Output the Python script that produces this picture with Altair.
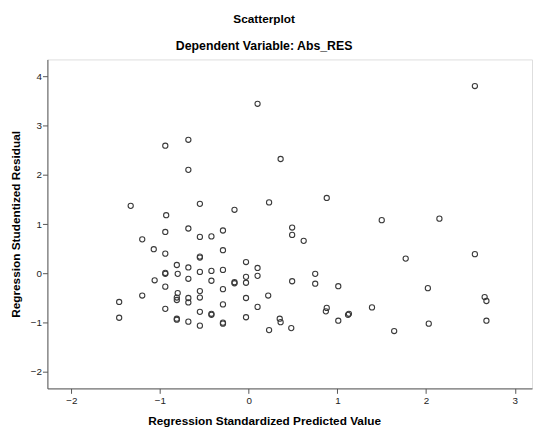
import altair as alt
import pandas as pd

# Regression Standardized Predicted Value (x) and Regression Studentized Residual (y)
pred = [
    0.10, 2.55, -0.94, -0.68, -0.68, 0.36, -1.33, -0.93, -0.55, -0.16,
    0.23, 0.88, 1.50, 2.15, -0.94, -0.68, -0.55, -1.20, -1.07, -0.94,
    -0.55, -0.55, -0.81, -0.68, -0.94, -0.94, -0.80, -0.55, -1.06, -0.68,
    -0.94, -0.55, -0.80, -1.20, -0.42, -0.29, 0.49, 0.49, 0.62, -0.29,
    -0.03, 0.10, -0.42, -0.29, -0.42, -0.16, -0.16, -0.03, -0.03, 0.10,
    0.49, 0.75, 0.75, 1.01, -0.29, 0.22, 1.77, 2.55, 2.02, 2.66,
    2.68, -1.46, -1.46, -0.81, -0.81, -0.68, -0.68, -0.55, -0.94, -0.55,
    -0.81, -0.81, -0.68, -0.55, -0.03, -0.29, 0.10, -0.42, -0.42, -0.29,
    -0.29, -0.03, 0.35, 0.36, 0.23, 0.48, 0.88, 0.87, 1.01, 1.12,
    1.13, 1.39, 1.64, 2.03, 2.68,
]
resid = [
    3.44, 3.80, 2.59, 2.71, 2.10, 2.32, 1.37, 1.18, 1.41, 1.29,
    1.44, 1.53, 1.08, 1.11, 0.84, 0.91, 0.74, 0.69, 0.49, 0.40,
    0.34, 0.32, 0.17, 0.12, -0.01, 0.01, -0.01, 0.03, -0.14, -0.11,
    -0.27, -0.36, -0.40, -0.45, 0.75, 0.87, 0.93, 0.78, 0.66, 0.47,
    0.23, 0.11, 0.05, 0.07, -0.15, -0.20, -0.18, -0.07, -0.19, -0.05,
    -0.16, -0.01, -0.21, -0.26, -0.32, -0.45, 0.30, 0.39, -0.30, -0.48,
    -0.56, -0.58, -0.90, -0.49, -0.54, -0.50, -0.59, -0.49, -0.72, -0.78,
    -0.94, -0.92, -0.98, -1.06, -0.50, -0.63, -0.68, -0.84, -0.82, -1.02,
    -1.00, -0.89, -0.92, -0.99, -1.15, -1.11, -0.70, -0.77, -0.96, -0.84,
    -0.82, -0.69, -1.17, -1.02, -0.96,
]
x_ticks = [-2, -1, 0, 1, 2, 3]
y_ticks = [-2, -1, 0, 1, 2, 3, 4]

df = pd.DataFrame({"pred": pred, "resid": resid})

FONT = "Liberation Sans"

chart = (
    alt.Chart(df)
    .mark_point(shape="circle", filled=False, size=28, strokeWidth=1.1,
                color="#3a3a3a", opacity=1)
    .encode(
        x=alt.X(
            "pred:Q",
            scale=alt.Scale(domain=[-2.269, 3.194], nice=False, zero=False),
            axis=alt.Axis(
                values=x_ticks, grid=False, tickSize=5, labelPadding=2,
                labelFontSize=10, labelFont=FONT, labelColor="#222",
                title="Regression Standardized Predicted Value",
                titleFont=FONT, titleFontSize=12, titleFontWeight="bold",
                titleColor="#000", titlePadding=11, titleX=220,
                titleAlign="center",
                domainColor="#555", tickColor="#555", labelFlush=False,
            ),
        ),
        y=alt.Y(
            "resid:Q",
            scale=alt.Scale(domain=[-2.334, 4.34], nice=False, zero=False),
            axis=alt.Axis(
                values=y_ticks, grid=False, tickSize=5, labelPadding=1,
                labelFontSize=10, labelFont=FONT, labelColor="#222",
                title="Regression Studentized Residual",
                titleFont=FONT, titleFontSize=12, titleFontWeight="bold",
                titleColor="#000", titlePadding=8,
                domainColor="#555", tickColor="#555", labelFlush=False,
            ),
        ),
    )
    .properties(
        width=492,
        height=334,
        padding={"left": 40, "top": 49, "right": 1, "bottom": 40},
        autosize=alt.AutoSizeParams(type="none"),
        title=alt.TitleParams(
            text="Scatterplot",
            subtitle="Dependent Variable: Abs_RES",
            font=FONT, fontSize=12, fontWeight="bold", color="#000",
            subtitleFont=FONT, subtitleFontSize=12.5,
            subtitleFontWeight="bold", subtitleColor="#000",
            subtitlePadding=15, offset=6, anchor="middle", dx=-26,
        ),
    )
    .configure_view(fill="#F0F0F0", stroke="#666", strokeWidth=1)
    .configure(background="white")
)

chart.save("out.html", embed_options={"renderer": "svg", "actions": False})
